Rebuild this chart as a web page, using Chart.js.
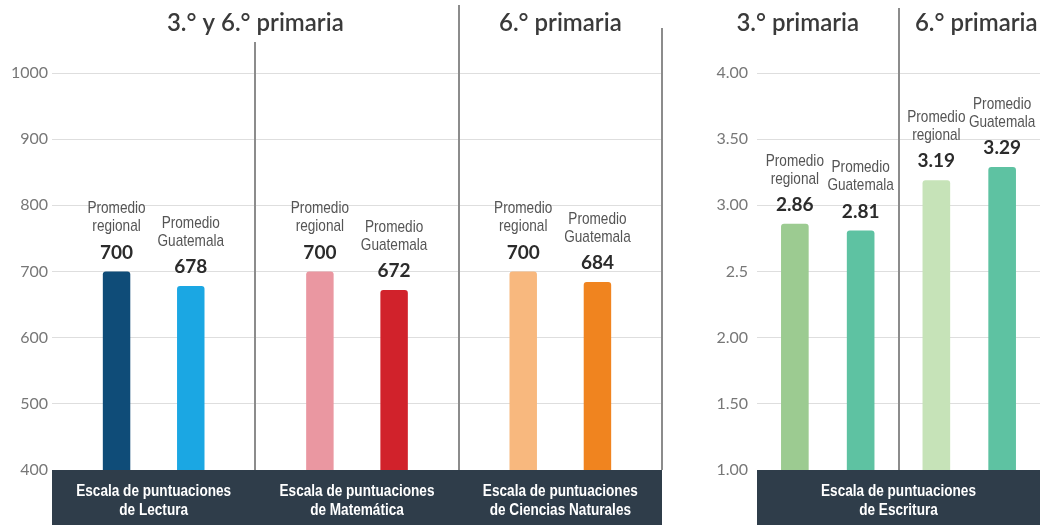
<!DOCTYPE html>
<html>
<head>
<meta charset="utf-8">
<script src="https://cdn.jsdelivr.net/npm/chart.js@4.4.1/dist/chart.umd.min.js"></script>
<style>
  body { margin: 0; background: #fff; }
  #wrap { position: relative; width: 1046px; height: 525px; overflow: hidden; }
  .box { position: absolute; top: 0; height: 525px; }
</style>
</head>
<body>
<div id="wrap">
  <div class="box" style="left:0;width:680px"><canvas id="scores"></canvas></div>
  <div class="box" style="left:680px;width:366px"><canvas id="writing"></canvas></div>
</div>
<script>
// Lectura / Matemática / Ciencias (escala 400-1000)
const scoreCategories = ['Lectura', 'Matemática', 'Ciencias Naturales']
const scoreRegional = [700, 700, 700]
const scoreGuatemala = [678, 672, 684]
const scoreHeaders = ['3.° y 6.° primaria', '6.° primaria']
const scoreBand = [
  ['Escala de puntuaciones', 'de Lectura'],
  ['Escala de puntuaciones', 'de Matemática'],
  ['Escala de puntuaciones', 'de Ciencias Naturales']
]
const scoreRegionalColors = ['#0f4c78', '#ea97a1', '#f8b87e']
const scoreGuatemalaColors = ['#1ba7e3', '#d1222b', '#f0841f']

// Escritura (escala 1-4)
const writingCategories = ['3.° primaria', '6.° primaria']
const writingRegional = [2.86, 3.19]
const writingGuatemala = [2.81, 3.29]
const writingTickLabels = ['1.00', '1.50', '2.00', '2.5', '3.00', '3.50', '4.00']
const writingBand = [['Escala de puntuaciones', 'de Escritura']]
const writingRegionalColors = ['#9ccb91', '#c6e3b8']
const writingGuatemalaColors = ['#5ec2a2', '#5ec2a2']

const regionalLabel = ['Promedio', 'regional']
const guatemalaLabel = ['Promedio', 'Guatemala']

// draw text squeezed horizontally (condensed look)
function narrowText(ctx, text, x, y, sx) {
  ctx.save()
  ctx.translate(x, y)
  ctx.scale(sx, 1)
  ctx.fillText(text, 0, 0)
  ctx.restore()
}

const decor = {
  id: 'decor',
  beforeDatasetsDraw(chart, args, opts) {
    const { ctx, chartArea: a, scales: { x } } = chart
    const step = x.getPixelForValue(1) - x.getPixelForValue(0)
    const half = step / 2
    ctx.save()

    // dark band under the plot
    ctx.fillStyle = '#2f3d4a'
    ctx.fillRect(a.left, a.bottom, a.right - a.left, chart.height - a.bottom)
    ctx.fillStyle = '#ffffff'
    ctx.font = 'bold 17px "Liberation Sans", Arial, sans-serif'
    ctx.textAlign = 'center'
    ctx.textBaseline = 'middle'
    opts.band.forEach((b, i) => {
      const span = opts.bandSpans[i]
      const cx = (x.getPixelForValue(span[0]) + x.getPixelForValue(span[1])) / 2
      b.forEach((line, j) => narrowText(ctx, line, cx, a.bottom + 21 + j * 19, 0.8))
    })

    // vertical separators
    ctx.strokeStyle = '#8c8c8c'
    ctx.lineWidth = 2
    opts.separators.forEach(s => {
      const px = Math.round(x.getPixelForValue(s.after) + half)
      ctx.beginPath()
      ctx.moveTo(px, s.top)
      ctx.lineTo(px, a.bottom)
      ctx.stroke()
    })

    // headers
    ctx.fillStyle = '#3a3a3a'
    ctx.font = '600 24px Lato, sans-serif'
    opts.headers.forEach((h, i) => {
      const span = opts.headerSpans[i]
      const cx = (x.getPixelForValue(span[0]) + x.getPixelForValue(span[1])) / 2 + span[2]
      ctx.fillText(h, cx, 23)
    })
    ctx.restore()
  },
  afterDatasetsDraw(chart, args, opts) {
    const { ctx } = chart
    ctx.save()
    ctx.textAlign = 'center'
    ctx.textBaseline = 'middle'
    chart.data.datasets.forEach((ds, di) => {
      chart.getDatasetMeta(di).data.forEach((bar, i) => {
        ctx.fillStyle = '#2b2b2b'
        ctx.font = 'bold 19px Lato, sans-serif'
        ctx.fillText(ds.data[i].toFixed(opts.decimals), bar.x, bar.y - 19)
        ctx.fillStyle = '#555555'
        ctx.font = '17px "Liberation Sans", Arial, sans-serif'
        narrowText(ctx, ds.caption[0], bar.x, bar.y - 63, 0.8)
        narrowText(ctx, ds.caption[1], bar.x, bar.y - 45, 0.8)
      })
    })
    ctx.restore()
  }
}

function baseOptions(yScale, padRight, yWidth, decorOpts) {
  return {
    responsive: true,
    maintainAspectRatio: false,
    animation: false,
    layout: { padding: { top: 73, right: padRight, left: 0, bottom: 0 } },
    plugins: { legend: { display: false }, tooltip: { enabled: false }, decor: decorOpts },
    scales: {
      x: {
        ticks: { display: false },
        grid: { display: false },
        border: { display: false },
        afterFit: (s) => { s.height = 55 }
      },
      y: Object.assign({
        grid: { color: '#dedede', drawTicks: false },
        border: { display: false },
        afterFit: (s) => { s.width = yWidth }
      }, yScale)
    }
  }
}

new Chart(document.getElementById('scores'), {
  type: 'bar',
  data: {
    labels: scoreCategories,
    datasets: [
      { data: scoreRegional, caption: regionalLabel, backgroundColor: scoreRegionalColors,
        categoryPercentage: 0.73, barPercentage: 0.37, borderRadius: 3 },
      { data: scoreGuatemala, caption: guatemalaLabel, backgroundColor: scoreGuatemalaColors,
        categoryPercentage: 0.73, barPercentage: 0.37, borderRadius: 3 }
    ]
  },
  options: baseOptions({
    min: 400, max: 1000,
    ticks: {
      stepSize: 100, color: '#777', padding: 4, font: { family: 'Lato', size: 16 },
      callback: (v) => String(v)
    }
  }, 18, 52, {
    decimals: 0,
    band: scoreBand,
    bandSpans: [[0, 0], [1, 1], [2, 2]],
    headers: scoreHeaders,
    headerSpans: [[0, 1, 0], [2, 2, 0]],
    separators: [{ after: 0, top: 42 }, { after: 1, top: 5 }, { after: 2, top: 28 }]
  }),
  plugins: [decor]
})

new Chart(document.getElementById('writing'), {
  type: 'bar',
  data: {
    labels: writingCategories,
    datasets: [
      { data: writingRegional, caption: regionalLabel, backgroundColor: writingRegionalColors,
        categoryPercentage: 0.93, barPercentage: 0.42, borderRadius: 3 },
      { data: writingGuatemala, caption: guatemalaLabel, backgroundColor: writingGuatemalaColors,
        categoryPercentage: 0.93, barPercentage: 0.42, borderRadius: 3 }
    ]
  },
  options: baseOptions({
    min: 1, max: 4,
    ticks: {
      stepSize: 0.5, color: '#777', padding: 9, font: { family: 'Lato', size: 16 },
      callback: (v, i) => writingTickLabels[i]
    }
  }, 6, 77, {
    decimals: 2,
    band: writingBand,
    bandSpans: [[0, 1]],
    headers: writingCategories,
    headerSpans: [[0, 0, -30], [1, 1, 7]],
    separators: [{ after: 0, top: 8 }]
  }),
  plugins: [decor]
})
</script>
</body>
</html>
